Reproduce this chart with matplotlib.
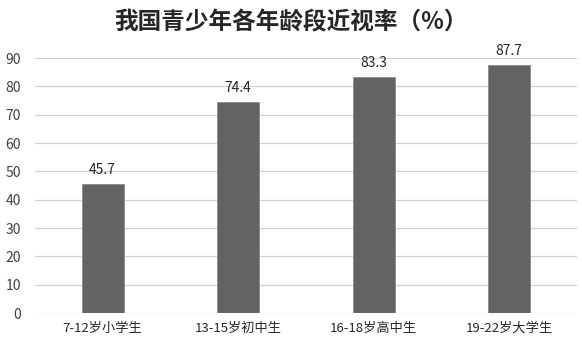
import numpy as np
import matplotlib
matplotlib.use('Agg')
import matplotlib.pyplot as plt

plt.rcParams['font.family'] = ['Noto Sans CJK SC', 'DejaVu Sans']

groups = ['7-12岁小学生', '13-15岁初中生', '16-18岁高中生', '19-22岁大学生']
rates = [45.7, 74.4, 83.3, 87.7]
yticks = list(range(0, 100, 10))

fig = plt.figure(figsize=(5.82, 3.46), dpi=100)
ax = fig.add_axes([0.060, 0.095, 0.931, 0.737])

x = np.arange(len(groups))
bars = ax.bar(x, rates, width=0.31, color='#636363', edgecolor='#8a8a8a', linewidth=0.6, zorder=3)
for b, v in zip(bars, rates):
    ax.annotate(f'{v:.1f}', (b.get_x() + b.get_width() / 2, v), xytext=(0, 5),
                textcoords='offset points', ha='center', va='bottom', fontsize=10, color='#262626')

ax.set_xlim(-0.5, len(groups) - 0.5)
ax.set_ylim(0, 90)
ax.set_yticks(yticks)
ax.set_xticks(x)
ax.set_xticklabels(groups, fontsize=9.5, color='#262626')
ax.tick_params(axis='y', labelsize=10, colors='#404040', length=0, pad=10)
ax.tick_params(axis='x', length=0, pad=6)
ax.grid(axis='y', color='#d0d0d0', linewidth=0.9, zorder=0)
for s in ax.spines.values():
    s.set_visible(False)

fig.text(0.5, 0.935, '我国青少年各年龄段近视率（%）', ha='center', va='center',
         fontsize=17, fontweight='bold', color='#262626')

fig.savefig('out.png', dpi=100)
